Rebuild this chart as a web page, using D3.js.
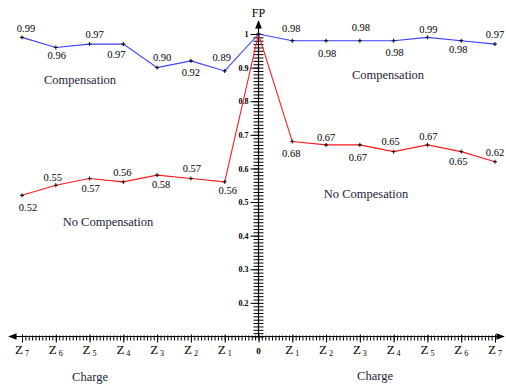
<!DOCTYPE html>
<html>
<head>
<meta charset="utf-8">
<script src="https://cdn.jsdelivr.net/npm/d3@7"></script>
<style>
  body { margin: 0; background: #fff; }
  svg { display: block; }
  svg text { font-family: "Liberation Serif", "Times New Roman", "DejaVu Serif", serif; }
  .minor line, .major line { stroke: #000; stroke-width: 1; }
  .domain { display: none; }
</style>
</head>
<body>
<svg id="chart" width="506" height="387"></svg>
<script>
// charge positions, negative = left branch
var charges = [-7, -6, -5, -4, -3, -2, -1, 0, 1, 2, 3, 4, 5, 6, 7];
var chargeSubs = ["7", "6", "5", "4", "3", "2", "1", "", "1", "2", "3", "4", "5", "6", "7"];
var compensation = [0.99, 0.96, 0.97, 0.97, 0.90, 0.92, 0.89, 1, 0.98, 0.98, 0.98, 0.98, 0.99, 0.98, 0.97];
var noCompensation = [0.52, 0.55, 0.57, 0.56, 0.58, 0.57, 0.56, 1, 0.68, 0.67, 0.67, 0.65, 0.67, 0.65, 0.62];
var yTicks = [0.2, 0.3, 0.4, 0.5, 0.6, 0.7, 0.8, 0.9, 1];

// label placement (dx, dy from the point), null = no label
var compOff = [[4,-9],[1,8],[5,-10],[-7,10],[5,-10],[0,11],[-3,-14],null,[-1,-12],[1,13],[1,-13],[1,12],[1,-8],[-3,9],[0,-10]];
var noCompOff = [[6,12],[-3,-8],[1,10],[-1,-10],[4,9],[1,-10],[3,8],null,[-1,12],[0,-8],[-2,12],[-3,-10],[1,-9],[-3,10],[0,-9]];

var serif = "Liberation Serif, Times New Roman, serif";
var svg = d3.select("#chart");

var x = d3.scaleLinear().domain([-7, 7]).range([22, 495]);
var y = d3.scaleLinear().domain([0.1, 1]).range([336.5, 34]);
var axisY = y(0.1), axisX = x(0);

// arrow heads
var defs = svg.append("defs");
defs.append("marker")
    .attr("id", "arrow")
    .attr("viewBox", "0 0 10 10")
    .attr("refX", 9).attr("refY", 5)
    .attr("markerWidth", 7).attr("markerHeight", 7)
    .attr("orient", "auto-start-reverse")
  .append("path")
    .attr("d", "M0,1L10,5L0,9Z")
    .attr("fill", "#000");

// x axis: minor ticks every 0.1, major at charges
var xMinor = d3.range(-70, 71).map(function(d){ return d / 10; });
svg.append("g")
    .attr("class", "minor")
    .attr("transform", "translate(0," + axisY + ")")
    .call(d3.axisBottom(x).tickValues(xMinor).tickSize(4).tickFormat(""))
    .selectAll("line").attr("y1", -1);
svg.append("g")
    .attr("class", "major")
    .attr("transform", "translate(0," + axisY + ")")
    .call(d3.axisBottom(x).tickValues(charges).tickSize(6).tickFormat(""))
    .selectAll("line").attr("y1", -2);
svg.append("line")
    .attr("x1", 9).attr("x2", 504)
    .attr("y1", axisY).attr("y2", axisY)
    .attr("stroke", "#000").attr("stroke-width", 1.2)
    .attr("marker-start", "url(#arrow)")
    .attr("marker-end", "url(#arrow)");

// y axis: minor ticks every 0.01
var yMinor = d3.range(10, 101).map(function(d){ return d / 100; });
svg.append("g")
    .attr("class", "minor")
    .attr("transform", "translate(" + axisX + ",0)")
    .call(d3.axisLeft(y).tickValues(yMinor).tickSize(5).tickFormat(""))
    .selectAll("line").attr("x1", 5).attr("x2", -5);
var yMajor = svg.append("g")
    .attr("class", "major")
    .attr("transform", "translate(" + axisX + ",0)")
    .call(d3.axisLeft(y).tickValues(yTicks).tickSize(8).tickPadding(2)
            .tickFormat(function(d){ return d === 1 ? "1" : d3.format(".1f")(d); }));
yMajor.attr("font-family", serif);
yMajor.selectAll("text")
    .attr("font-size", 8)
    .attr("font-weight", "bold")
    .attr("fill", "#000");
svg.append("line")
    .attr("x1", axisX).attr("x2", axisX)
    .attr("y1", axisY).attr("y2", 21)
    .attr("stroke", "#000").attr("stroke-width", 1.2)
    .attr("marker-end", "url(#arrow)");
svg.append("text")
    .attr("x", axisX).attr("y", 17)
    .attr("text-anchor", "middle")
    .attr("font-size", 12)
    .text("FP");

// x tick labels
var xl = svg.append("g").attr("id", "xlabels");
charges.forEach(function(c, i){
  var t = xl.append("text")
      .attr("x", x(c))
      .attr("y", axisY + 17)
      .attr("text-anchor", "middle");
  if (c === 0) {
    t.attr("font-size", 9).attr("font-weight", "bold").text("0");
  } else {
    t.attr("font-size", 13).append("tspan").text("Z");
    t.append("tspan")
        .attr("font-size", 8)
        .attr("dx", 2).attr("dy", 2)
        .text(chargeSubs[i]);
  }
});

// series lines
var line = d3.line()
    .x(function(d){ return x(d[0]); })
    .y(function(d){ return y(d[1]); });

function drawSeries(vals, offs, color, id){
  var pts = charges.map(function(c, i){ return [c, vals[i]]; });
  var g = svg.append("g").attr("id", id);
  g.append("path")
      .datum(pts)
      .attr("d", line)
      .attr("fill", "none")
      .attr("stroke", color)
      .attr("stroke-width", 1.1);
  g.selectAll("path.mark")
      .data(pts)
      .enter()
      .append("path")
      .attr("class", "mark")
      .attr("d", function(d){
        var px = x(d[0]), py = y(d[1]);
        return "M" + (px - 2) + "," + py + "H" + (px + 2) + "M" + px + "," + (py - 2) + "V" + (py + 2);
      })
      .attr("stroke", "#000")
      .attr("stroke-width", 1);
  g.selectAll("text")
      .data(pts.filter(function(d, i){ return offs[i]; }))
      .enter()
      .append("text")
      .attr("x", function(d){ return x(d[0]) + offs[charges.indexOf(d[0])][0]; })
      .attr("y", function(d){ return y(d[1]) + offs[charges.indexOf(d[0])][1]; })
      .attr("dy", "0.35em")
      .attr("text-anchor", "middle")
      .attr("font-size", 10.5)
      .attr("fill", "#000")
      .text(function(d){ return d3.format(".2f")(d[1]); });
}
drawSeries(noCompensation, noCompOff, "#ff1a1a", "nocomp");
drawSeries(compensation, compOff, "#3d3dff", "comp");

// annotations
var notes = [
  {t: "Compensation", x: 80, y: 80},
  {t: "Compensation", x: 388, y: 75},
  {t: "No Compensation", x: 108, y: 222},
  {t: "No Compesation", x: 366, y: 194},
  {t: "Charge", x: 90, y: 377},
  {t: "Charge", x: 375, y: 376}
];
svg.append("g").selectAll("text")
    .data(notes)
    .enter()
    .append("text")
    .attr("x", function(d){ return d.x; })
    .attr("y", function(d){ return d.y; })
    .attr("dy", "0.35em")
    .attr("text-anchor", "middle")
    .attr("font-size", 12.5)
    .attr("fill", "#23233a")
    .text(function(d){ return d.t; });
</script>
</body>
</html>
